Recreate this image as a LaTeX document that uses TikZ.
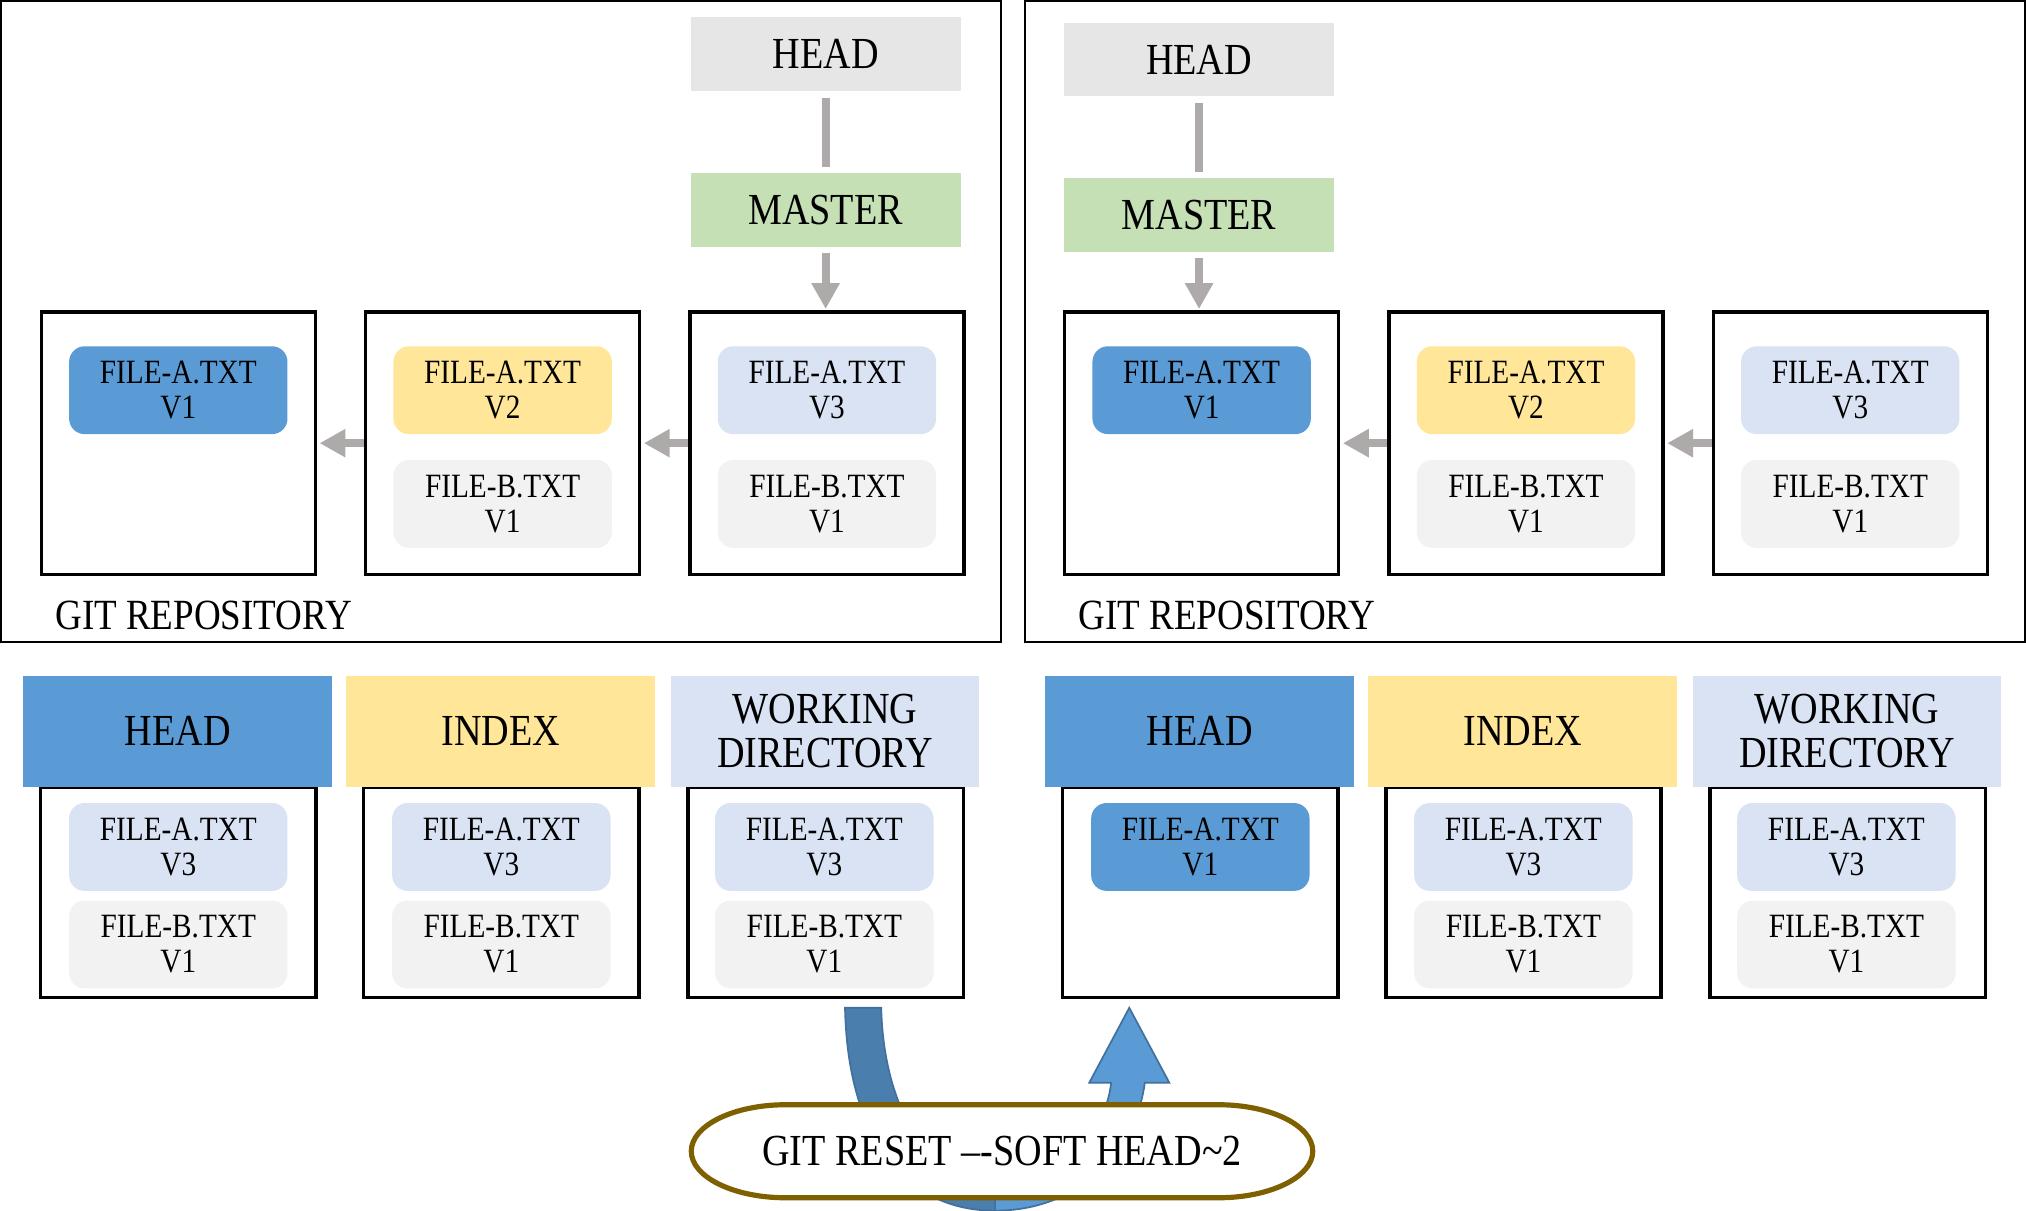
\documentclass[tikz,border=0pt]{standalone}
\usepackage{fontspec}
\setmainfont{Liberation Serif}[FakeStretch=0.86]
\usepackage{tikz}
\usetikzlibrary{arrows.meta}
\definecolor{headgray}{HTML}{E7E6E6}
\definecolor{mastergreen}{HTML}{C5E0B4}
\definecolor{vonecol}{HTML}{5B9BD5}
\definecolor{vtwocol}{HTML}{FFE699}
\definecolor{vthreecol}{HTML}{DAE3F3}
\definecolor{fbgray}{HTML}{F2F2F2}
\definecolor{arrowgray}{HTML}{AEAAAA}
\definecolor{olive}{HTML}{7F6000}
\definecolor{udark}{HTML}{4A7EAC}
\definecolor{uedge}{HTML}{41719C}
\newcommand*{\fileA}[1]{FILE-A.TXT\\V#1}
\newcommand*{\fileB}[1]{FILE-B.TXT\\V#1}

\begin{document}
\begin{tikzpicture}[x=0.3pt, y=-0.3pt,
    bigtext/.style={font=\fontsize{10.3}{10.3}\selectfont, align=center},
    smalltext/.style={font=\fontsize{7.9}{8.1}\selectfont, align=center},
    repobox/.style={draw, line width=0.5pt},
    refbox/.style={bigtext, minimum width=62.7pt, minimum height=17.1pt},
    commitbox/.style={draw, line width=0.8pt, minimum width=63.6pt, minimum height=60.9pt},
    filebox/.style={smalltext, rounded corners=3.6pt, minimum width=50.7pt, minimum height=20.4pt},
    areabox/.style={draw, line width=0.8pt, minimum width=63.9pt, minimum height=48.9pt},
    headerbox/.style={bigtext, minimum width=71.7pt, minimum height=25.8pt},
    link/.style={draw=arrowgray, line width=1.8pt},
    pointer/.style={link, -{Triangle[width=6.2pt, length=6pt]}}]
  \fill[white] (0,0) rectangle (1568,937);
  \useasboundingbox (0,0) rectangle (1568,937);

  \foreach \side/\ox/\oy/\k/\hx in {l/0/0/3/639, r/792/4/1/928}
  {
    \draw[repobox] (1+\ox,1) rectangle (775+\ox,497);
    \foreach \i/\cx/\col in {1/138/vonecol, 2/389/vtwocol, 3/640/vthreecol}
    {
      \node[commitbox] (c\side\i) at (\cx+\ox,343) {};
      \node[filebox, fill=\col] (a\side\i) at (\cx+\ox,302) {\fileA{\i}};
    }
    \foreach \i/\cx in {2/389, 3/640}
    {
      \node[filebox, fill=fbgray] (b\side\i) at (\cx+\ox,390) {\fileB{1}};
    }
    \node[refbox, fill=headgray] (h\side) at (\hx,42+\oy) {HEAD};
    \node[refbox, fill=mastergreen] (m\side) at (\hx,162.5+\oy) {MASTER};
    \node[bigtext, font=\fontsize{10}{10}\selectfont, anchor=west] (g\side) at (31+\ox,476) {GIT REPOSITORY};

    \draw[link, shorten <=1.35pt, shorten >=1.2pt] (h\side) -- (m\side);
    \draw[pointer, shorten <=1.2pt, shorten >=0.3pt] (m\side) -- (m\side |- c\side\k.north);
    \draw[pointer, shorten >=0.6pt] (c\side3) -- (c\side2);
    \draw[pointer, shorten >=0.6pt] (c\side2) -- (c\side1);
  }

  \foreach \side/\ox/\va/\cola in {l/0/3/vthreecol, r/791/1/vonecol}
  {
    \foreach \i/\cx/\col/\txt in {1/138/vonecol/HEAD, 2/388/vtwocol/INDEX, 3/639/vthreecol/{WORKING\\DIRECTORY}}
    {
      \node[areabox] (w\side\i) at (\cx+\ox,690.5) {};
      \node[headerbox, fill=\col] (t\side\i) at (\cx+\ox-0.5,566) {\txt};
    }
    \node[filebox, fill=\cola] (p\side1) at (138+\ox,655.5) {\fileA{\va}};
    \foreach \i/\cx in {2/388, 3/638}
    {
      \node[filebox, fill=vthreecol] (p\side\i) at (\cx+\ox,655.5) {\fileA{3}};
      \node[filebox, fill=fbgray] (q\side\i) at (\cx+\ox,731) {\fileB{1}};
    }
  }
  \node[filebox, fill=fbgray] (ql1) at (138,731) {\fileB{1}};

  \filldraw[fill=udark, draw=uedge, line width=0.4pt]
    (654,780) .. controls (656,880) and (700,937) .. (770,937)
    -- (770,915) .. controls (720,915) and (684,860) .. (682,780) -- cycle;
  \filldraw[fill=vonecol, draw=uedge, line width=0.4pt]
    (770,937) .. controls (840,937) and (880,885) .. (886,838)
    -- (905,838) -- (874,780) -- (843,838) -- (860,838)
    .. controls (855,880) and (820,915) .. (770,915) -- cycle;

  \filldraw[fill=white, draw=olive, line width=1.2pt]
    (535,891) .. controls (535,871) and (568,855) .. (608,855) -- (943,855)
    .. controls (983,855) and (1016,871) .. (1016,891)
    .. controls (1016,911) and (983,927) .. (943,927) -- (608,927)
    .. controls (568,927) and (535,911) .. (535,891) -- cycle;
  \node[bigtext] (cmd) at (775.5,891) {GIT RESET –-SOFT HEAD\textasciitilde 2};
\end{tikzpicture}
\end{document}
